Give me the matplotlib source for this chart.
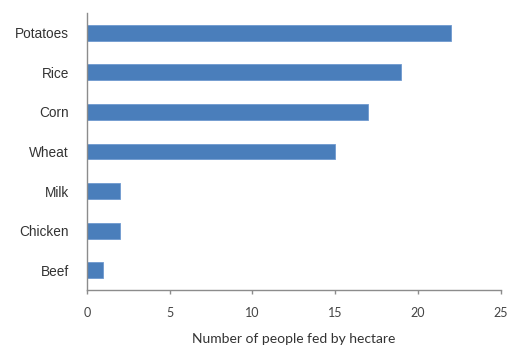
import matplotlib
matplotlib.use("Agg")
import matplotlib.pyplot as plt

# Persone sfamate per ettaro, per coltura / prodotto
prodotti = ['Potatoes', 'Rice', 'Corn', 'Wheat', 'Milk', 'Chicken', 'Beef']
persone = [22, 19, 17, 15, 2, 2, 1]
tick_x = [0, 5, 10, 15, 20, 25]

fig = plt.figure(figsize=(5.11, 3.49), dpi=100)
ax = fig.add_axes([0.170, 0.169, 0.810, 0.794])

pos = list(range(len(prodotti)))
ax.barh(pos, persone, height=0.4, color='#4a7ebb', edgecolor='#6f9ad0', linewidth=0.6)

ax.set_ylim(len(prodotti) - 0.5, -0.5)
ax.set_xlim(0, 25)
ax.set_yticks(pos)
ax.set_yticklabels(prodotti, fontfamily='Liberation Sans', fontsize=9.8, color='#333333')
ax.set_xticks(tick_x)
ax.set_xticklabels([str(t) for t in tick_x], fontfamily='Lato', fontsize=9, color='#444444')
ax.set_xlabel('Number of people fed by hectare', fontfamily='Lato', fontsize=10,
              color='#333333', labelpad=10.5)

for lato in ['top', 'right']:
    ax.spines[lato].set_visible(False)
for lato in ['left', 'bottom']:
    ax.spines[lato].set_color('#8c8c8c')
    ax.spines[lato].set_linewidth(1.0)

ax.tick_params(axis='y', length=0, pad=13)
ax.tick_params(axis='x', length=3, width=1, color='#8c8c8c', direction='out', pad=9)

fig.savefig('out.png', dpi=100)
